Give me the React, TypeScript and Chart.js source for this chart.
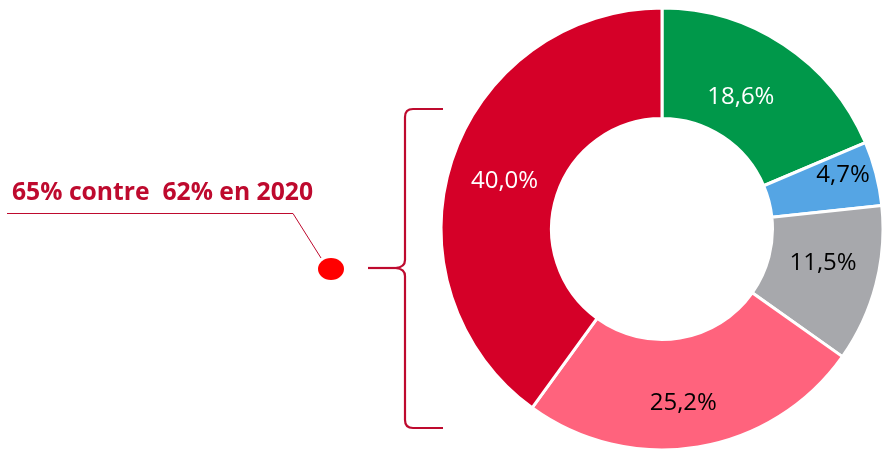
import React, { useEffect, useRef } from "react";
import { Chart, registerables } from "chart.js";

Chart.register(...registerables);

const categories = ["Vert", "Bleu", "Gris", "Rose", "Rouge"];
const values = [18.6, 4.7, 11.5, 25.2, 40.0];
const valueLabels = ["18,6%", "4,7%", "11,5%", "25,2%", "40,0%"];
const colors = ["#00984A", "#55A5E4", "#A7A8AC", "#FF637D", "#D50028"];
const labelColors = ["#FFFFFF", "#000000", "#000000", "#000000", "#FFFFFF"];
const annotationText = "65% contre  62% en 2020";

// label placement style (radial fraction within ring, angular nudge in degrees)
const labelRadiusFactor = [0.39, 0.71, 0.49, 0.59, 0.49];
const labelAngleNudge = [-2.6, -2.1, -2.6, 2.4, -1];

const DARK_RED = "#BE0A2E";

const labelsPlugin = {
  id: "sliceLabels",
  afterDatasetsDraw(chart: any) {
    const ctx = chart.ctx;
    const meta = chart.getDatasetMeta(0);
    ctx.save();
    ctx.font = "24px 'Open Sans'";
    ctx.textAlign = "center";
    ctx.textBaseline = "middle";
    meta.data.forEach((arc: any, i: number) => {
      const p = arc.getProps(["x", "y", "startAngle", "endAngle", "innerRadius", "outerRadius"], true);
      const mid = (p.startAngle + p.endAngle) / 2 + (labelAngleNudge[i] * Math.PI) / 180;
      const r = p.innerRadius + (p.outerRadius - p.innerRadius) * labelRadiusFactor[i];
      ctx.fillStyle = labelColors[i];
      ctx.fillText(valueLabels[i], p.x + Math.cos(mid) * r, p.y + Math.sin(mid) * r);
    });
    ctx.restore();
  },
};

const annotationPlugin = {
  id: "annotation",
  afterDraw(chart: any) {
    const ctx = chart.ctx;
    ctx.save();
    ctx.fillStyle = DARK_RED;
    ctx.font = "bold 24.7px 'Open Sans'";
    ctx.textAlign = "left";
    ctx.textBaseline = "alphabetic";
    ctx.fillText(annotationText, 12, 200);
    ctx.strokeStyle = DARK_RED;
    ctx.lineWidth = 1;
    ctx.beginPath();
    ctx.moveTo(7, 213.5);
    ctx.lineTo(293, 213.5);
    ctx.lineTo(321, 258);
    ctx.stroke();
    ctx.fillStyle = "#FF0000";
    ctx.beginPath();
    ctx.ellipse(331, 269, 13, 11, 0, 0, Math.PI * 2);
    ctx.fill();
    ctx.strokeStyle = DARK_RED;
    ctx.lineWidth = 2.2;
    ctx.beginPath();
    ctx.moveTo(443, 109);
    ctx.lineTo(413, 109);
    ctx.quadraticCurveTo(405, 109, 405, 117);
    ctx.lineTo(405, 260);
    ctx.quadraticCurveTo(405, 267, 396, 268);
    ctx.quadraticCurveTo(405, 269, 405, 276);
    ctx.lineTo(405, 420);
    ctx.quadraticCurveTo(405, 428, 413, 428);
    ctx.lineTo(443, 428);
    ctx.stroke();
    ctx.beginPath();
    ctx.moveTo(368, 268);
    ctx.lineTo(398, 268);
    ctx.stroke();
    ctx.restore();
  },
};

export default function App() {
  const canvasRef = useRef<HTMLCanvasElement | null>(null);
  useEffect(() => {
    if (!canvasRef.current) return;
    const chart = new Chart(canvasRef.current, {
      type: "doughnut",
      data: {
        labels: categories,
        datasets: [
          {
            data: values,
            backgroundColor: colors,
            borderColor: "#FFFFFF",
            borderWidth: 3,
          },
        ],
      },
      options: {
        animation: false,
        responsive: false,
        radius: 221,
        cutout: "50%",
        layout: { padding: { left: 443, right: 1, top: 10, bottom: 1 } },
        plugins: {
          legend: { display: false },
          tooltip: { enabled: false },
        },
      },
      plugins: [labelsPlugin, annotationPlugin],
    });
    return () => chart.destroy();
  }, []);
  return (
    <div style={{ position: "fixed", left: 0, top: 0, width: 882, height: 449, background: "#fff" }}>
      <canvas ref={canvasRef} width={882} height={449} style={{ display: "block" }} />
    </div>
  );
}
